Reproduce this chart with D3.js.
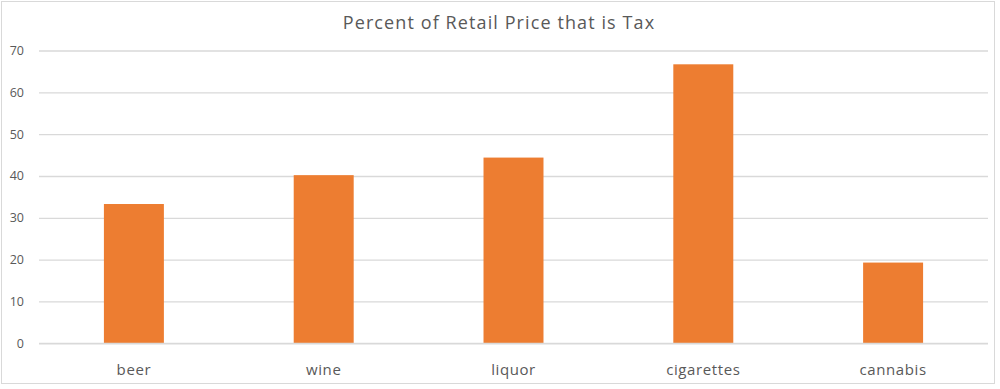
<!DOCTYPE html>
<html>
<head>
<meta charset="utf-8">
<script src="https://cdn.jsdelivr.net/npm/d3@7"></script>
<style>
  body { margin: 0; background: #fff; }
  text { font-family: "Open Sans", "Noto Sans", sans-serif; fill: #595959; }
</style>
</head>
<body>
<div id="chart"></div>
<script>

/**
 * Data
 */

const categories = ['beer', 'wine', 'liquor', 'cigarettes', 'cannabis'];
const values = [33.3, 40.2, 44.4, 66.7, 19.3];
const yTicks = [0, 10, 20, 30, 40, 50, 60, 70];
const chartTitle = 'Percent of Retail Price that is Tax';


/**
 * Layout
 */

const width = 1000;
const height = 389;
const plot = { left: 39, right: 988, top: 50.5, bottom: 343.3 };
const barRatio = 0.316;

const colors = {
  bar: '#ED7D31',
  grid: '#D9D9D9',
  border: '#D9D9D9',
};

const svg = d3.select('#chart')
              .append('svg')
              .attr('width', width)
              .attr('height', height);

svg.append('rect')
   .attr('x', 1.5)
   .attr('y', 1.5)
   .attr('width', 993)
   .attr('height', 382)
   .attr('fill', '#fff')
   .attr('stroke', colors.border)
   .attr('stroke-width', 1);

const x = d3.scaleBand()
            .domain(categories)
            .range([plot.left, plot.right])
            .padding(0);

const y = d3.scaleLinear()
            .domain([0, 70])
            .range([plot.bottom, plot.top]);

// gridlines + y labels
const yAxis = svg.append('g')
                 .attr('transform', `translate(${plot.left},0)`)
                 .call(d3.axisLeft(y)
                         .tickValues(yTicks)
                         .tickSize(-(plot.right - plot.left))
                         .tickPadding(15));

yAxis.select('.domain').remove();
yAxis.selectAll('.tick line')
     .attr('stroke', colors.grid)
     .attr('stroke-width', 1.3);
yAxis.selectAll('.tick text')
     .attr('font-size', 12.5)
     .style('font-family', '"Open Sans", sans-serif')
     .attr('fill', '#595959');

// bars
const barWidth = x.bandwidth() * barRatio;

svg.append('g')
   .selectAll('rect')
   .data(values)
   .enter()
   .append('rect')
   .attr('x', (d, i) => x(categories[i]) + (x.bandwidth() - barWidth) / 2)
   .attr('y', d => y(d))
   .attr('width', barWidth)
   .attr('height', d => y(0) - y(d))
   .attr('fill', colors.bar);

// baseline redrawn over bars
svg.append('line')
   .attr('x1', plot.left)
   .attr('x2', plot.right)
   .attr('y1', y(0))
   .attr('y2', y(0))
   .attr('stroke', colors.grid)
   .attr('stroke-width', 1.3);

// category labels
const xAxis = svg.append('g')
                 .attr('transform', `translate(0,${plot.bottom})`)
                 .call(d3.axisBottom(x).tickSize(0).tickPadding(21));

xAxis.select('.domain').remove();
xAxis.selectAll('.tick text')
     .attr('font-size', 15)
     .attr('letter-spacing', 0.6)
     .style('font-family', '"Open Sans", sans-serif')
     .attr('fill', '#595959');

// title
svg.append('text')
   .attr('x', 499)
   .attr('y', 29)
   .attr('text-anchor', 'middle')
   .attr('font-size', 18)
   .attr('letter-spacing', 1.1)
   .text(chartTitle);

</script>
</body>
</html>
